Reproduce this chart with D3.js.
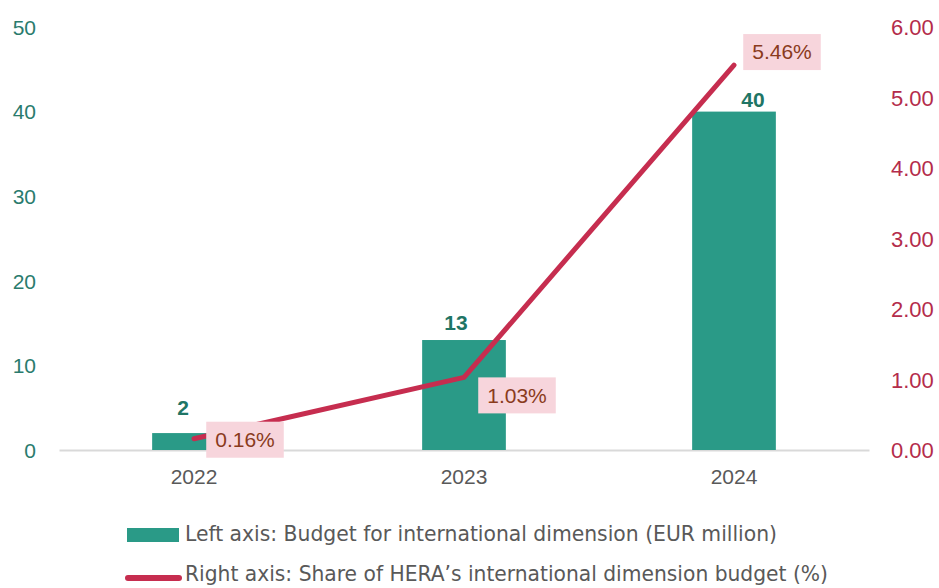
<!DOCTYPE html>
<html>
<head>
<meta charset="utf-8">
<script src="https://cdn.jsdelivr.net/npm/d3@7"></script>
<style>
  html, body { margin: 0; padding: 0; background: #fff; }
  svg { display: block; }
</style>
</head>
<body>
<svg id="chart" width="939" height="588"></svg>
<script>
// Budget of HERA's international dimension, 2022-2024
const years = ["2022", "2023", "2024"];
const budget = [2, 13, 40];            // EUR million, left axis
const share = [0.16, 1.03, 5.46];      // %, right axis
const leftTicks = [0, 10, 20, 30, 40, 50];
const rightTicks = [0, 1, 2, 3, 4, 5, 6];
const legendLabels = [
  "Left axis: Budget for international dimension (EUR million)",
  "Right axis: Share of HERA\u2019s international dimension budget (%)"
];

const C = {
  bar: "#2A9A87",
  barLabel: "#1F7565",
  leftTick: "#2A7B6D",
  rightTick: "#B42C4B",
  line: "#C62D4F",
  box: "#F7D5DC",
  boxText: "#8A3B1D",
  xTick: "#595959",
  base: "#D9D9D9",
  legend: "#595959"
};
const FONT = "'Liberation Sans', Arial, sans-serif";
const NARROW = "'Liberation Sans Narrow', 'DejaVu Sans Condensed', 'Liberation Sans', sans-serif";

const svg = d3.select("#chart");
const plot = { left: 59, right: 869, top: 27, bottom: 450 };

const x = d3.scaleBand().domain(years).range([plot.left, plot.right]).paddingInner(0.69).paddingOuter(0.345);
const yL = d3.scaleLinear().domain([0, 50]).range([plot.bottom, plot.top]);
const yR = d3.scaleLinear().domain([0, 6]).range([plot.bottom, plot.top]);
const cx = d => x(d) + x.bandwidth() / 2;

// left axis (labels only)
const axL = svg.append("g").attr("transform", `translate(36,0)`)
  .call(d3.axisLeft(yL).tickValues(leftTicks).tickSize(0).tickPadding(0));
axL.select(".domain").remove();
axL.selectAll("text").attr("fill", C.leftTick).style("font", `21px ${FONT}`).attr("dy", "0.35em");

// right axis (labels only)
const axR = svg.append("g").attr("transform", `translate(891,0)`)
  .call(d3.axisRight(yR).tickValues(rightTicks).tickFormat(d3.format(".2f")).tickSize(0).tickPadding(0));
axR.select(".domain").remove();
axR.selectAll("text").attr("fill", C.rightTick).style("font", `22px ${FONT}`).attr("dy", "0.35em");

// category axis
const axX = svg.append("g").attr("transform", `translate(0,${plot.bottom})`)
  .call(d3.axisBottom(x).tickSize(0).tickPadding(19));
axX.select(".domain").attr("stroke", C.base).attr("stroke-width", 2);
axX.selectAll("text").attr("fill", C.xTick).style("font", `21px ${FONT}`);

// bars
svg.append("g").selectAll("rect").data(budget).join("rect")
  .attr("x", (d, i) => x(years[i]))
  .attr("width", x.bandwidth())
  .attr("y", d => yL(d))
  .attr("height", d => yL(0) - yL(d))
  .attr("fill", C.bar);

// bar value labels (hand-placed offsets from each bar top)
const barLabelShift = [[-11, -18], [-8, -10], [19, -5]];
svg.append("g").selectAll("text").data(budget).join("text")
  .attr("x", (d, i) => cx(years[i]) + barLabelShift[i][0])
  .attr("y", (d, i) => yL(d) + barLabelShift[i][1])
  .attr("text-anchor", "middle")
  .attr("fill", C.barLabel)
  .style("font", `bold 21px ${FONT}`)
  .text(d => d);

// share line
const line = d3.line().x((d, i) => cx(years[i])).y(d => yR(d));
svg.append("path").datum(share)
  .attr("d", line)
  .attr("fill", "none")
  .attr("stroke", C.line)
  .attr("stroke-width", 5)
  .attr("stroke-linecap", "round")
  .attr("stroke-linejoin", "round");

// share labels in shaded boxes
const shareLabelShift = [[51, 1], [53, 18], [48, -13]];
const lg = svg.append("g").selectAll("g").data(share).join("g")
  .attr("transform", (d, i) => `translate(${cx(years[i]) + shareLabelShift[i][0]},${yR(d) + shareLabelShift[i][1]})`);
lg.append("rect").attr("class", "box").attr("fill", C.box);
lg.append("text")
  .attr("text-anchor", "middle")
  .attr("dy", "0.35em")
  .attr("fill", C.boxText)
  .style("font", `21px ${FONT}`)
  .text(d => d.toFixed(2) + "%");
lg.each(function () {
  const g = d3.select(this);
  const b = g.select("text").node().getBBox();
  g.select("rect")
    .attr("x", b.x - 9).attr("width", b.width + 18)
    .attr("y", -18).attr("height", 36);
});

// legend
const legend = svg.append("g").attr("transform", "translate(127,0)");
legend.append("rect").attr("x", 0).attr("y", 528).attr("width", 52).attr("height", 14).attr("fill", C.bar);
legend.append("line").attr("x1", 1).attr("x2", 52).attr("y1", 578).attr("y2", 578)
  .attr("stroke", C.line).attr("stroke-width", 6).attr("stroke-linecap", "round");
const legendWidths = [592, 643];
legend.selectAll("text.leg").data(legendLabels).join("text")
  .attr("class", "leg")
  .attr("x", 58)
  .attr("y", (d, i) => 541 + i * 40)
  .attr("fill", C.legend)
  .style("font", `22px ${NARROW}`)
  .attr("textLength", (d, i) => legendWidths[i])
  .attr("lengthAdjust", "spacingAndGlyphs")
  .text(d => d);
</script>
</body>
</html>
